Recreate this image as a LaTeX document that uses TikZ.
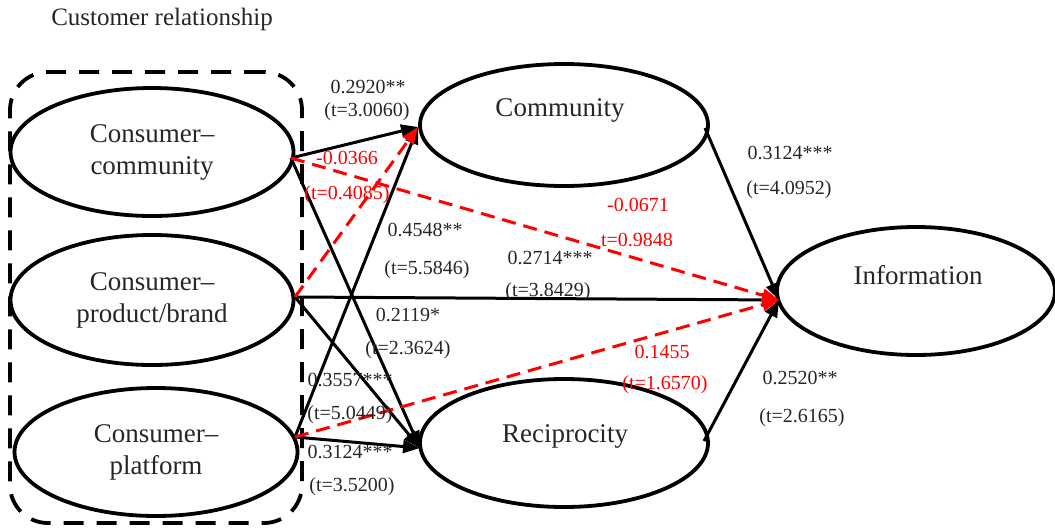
\documentclass[tikz,border=0pt]{standalone}
\usepackage{fontspec}
\setmainfont{Liberation Serif}
\usetikzlibrary{shapes.geometric,arrows.meta}
\begin{document}
\begin{tikzpicture}[x=1pt,y=-1pt,
  ell/.style={draw, ellipse, line width=3.8pt, inner sep=0pt},
  bigtext/.style={font=\fontsize{27}{32}\selectfont, align=center, inner sep=0pt, text=black!85},
  lab/.style={font=\fontsize{20}{22}\selectfont, inner sep=0pt, text=black!85},
  rlab/.style={lab, text=red},
  arr/.style={line width=3pt, -{Triangle[length=17pt,width=13pt]}},
  rarr/.style={arr, red, dash pattern=on 14pt off 8pt},
]
\useasboundingbox (0,0) rectangle (1055,528);
\node[font=\fontsize{25}{28}\selectfont, inner sep=0pt, text=black!85] (title) at (162,19) {Customer relationship};

% grouping box
\node[draw, dash pattern=on 20pt off 13pt, line width=3.8pt, rounded corners=38pt,
      minimum width=292pt, minimum height=451pt, inner sep=0pt] (box) at (156,297.5) {};

% left ellipses
\node[ell, minimum width=283pt, minimum height=128pt, bigtext] (cc) at (152,152) {Consumer–\\community};
\node[ell, minimum width=283pt, minimum height=130pt, bigtext] (cpb) at (152,300) {Consumer–\\product/brand};
\node[ell, minimum width=283pt, minimum height=128pt, bigtext] (cp) at (156,452) {Consumer–\\platform};

% right ellipses
\node[ell, minimum width=288pt, minimum height=122pt] (com) at (564,125) {};
\node[bigtext] (comt) at (560,110) {Community};
\node[ell, minimum width=288pt, minimum height=128pt] (rec) at (564,443) {};
\node[bigtext] (rect) at (565,436) {Reciprocity};
\node[ell, minimum width=278pt, minimum height=128pt] (inf) at (916,291) {};
\node[bigtext] (inft) at (918,275) {Information};

% ports
\coordinate (ccP) at (291,158);
\coordinate (cpbP) at (295,297);
\coordinate (cpP) at (295,437);
\coordinate (comIn) at (418,127);
\coordinate (recIn) at (420,448);
\coordinate (infIn) at (779,300);
\coordinate (comOut) at (705,128);
\coordinate (recOut) at (704,441);

% solid paths
\draw[arr] (ccP) -- (comIn);
\draw[arr] (ccP) -- (recIn);
\draw[arr] (cpbP) -- (infIn);
\draw[arr] (cpbP) -- (recIn);
\draw[arr] (cpP) -- (comIn);
\draw[arr] (cpP) -- (recIn);
\draw[arr] (comOut) -- (infIn);
\draw[arr] (recOut) -- (infIn);

% non-significant paths
\draw[rarr] (ccP) -- (infIn);
\draw[rarr] (cpbP) -- (comIn);
\draw[rarr] (cpP) -- (infIn);

% labels
\node[lab] (l1a) at (368,87) {0.2920**};
\node[lab] (l1b) at (367,112) {(t=3.0060)};
\node[rlab] (l2a) at (347,158) {-0.0366};
\node[rlab] (l2b) at (347,195) {(t=0.4085)};
\node[lab] (l3a) at (425,230) {0.4548**};
\node[lab] (l3b) at (427,270) {(t=5.5846)};
\node[lab] (l4a) at (408,315) {0.2119*};
\node[lab] (l4b) at (408,350) {(t=2.3624)};
\node[lab] (l5a) at (350,380) {0.3557***};
\node[lab] (l5b) at (350,415) {(t=5.0449)};
\node[lab] (l6a) at (350,452) {0.3124***};
\node[lab] (l6b) at (352,487) {(t=3.5200)};
\node[rlab] (l7a) at (638,205) {-0.0671};
\node[rlab] (l7b) at (637,240) {t=0.9848};
\node[lab] (l8a) at (550,258) {0.2714***};
\node[lab] (l8b) at (548,292) {(t=3.8429)};
\node[rlab] (l9a) at (662,352) {0.1455};
\node[rlab] (l9b) at (665,385) {(t=1.6570)};
\node[lab] (l10a) at (790,153) {0.3124***};
\node[lab] (l10b) at (789,190) {(t=4.0952)};
\node[lab] (l11a) at (800,378) {0.2520**};
\node[lab] (l11b) at (802,418) {(t=2.6165)};
\end{tikzpicture}
\end{document}
